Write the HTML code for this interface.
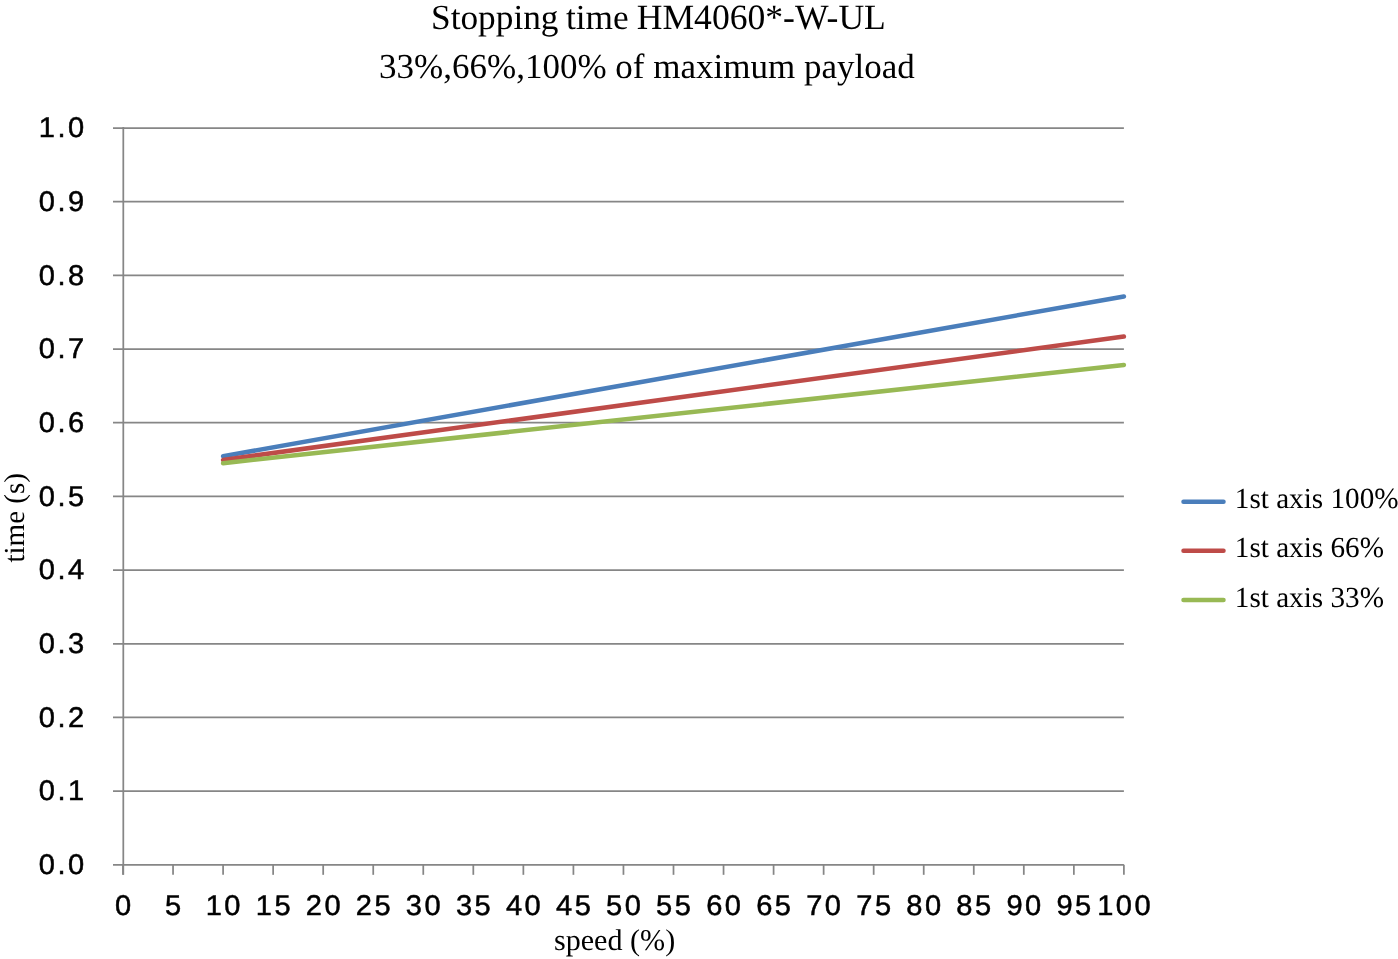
<!DOCTYPE html><html><head><meta charset="utf-8"><style>html,body{margin:0;padding:0;background:#fff;width:1398px;height:959px;overflow:hidden}svg{display:block;will-change:transform;text-rendering:geometricPrecision}</style></head><body>
<svg width="1398" height="959" viewBox="0 0 1398 959">
<rect width="1398" height="959" fill="#fff"/>
<line x1="113" y1="864.83" x2="1123.90" y2="864.83" stroke="#868686" stroke-width="1.75"/>
<line x1="113" y1="791.15" x2="1123.90" y2="791.15" stroke="#868686" stroke-width="1.75"/>
<line x1="113" y1="717.46" x2="1123.90" y2="717.46" stroke="#868686" stroke-width="1.75"/>
<line x1="113" y1="643.78" x2="1123.90" y2="643.78" stroke="#868686" stroke-width="1.75"/>
<line x1="113" y1="570.10" x2="1123.90" y2="570.10" stroke="#868686" stroke-width="1.75"/>
<line x1="113" y1="496.42" x2="1123.90" y2="496.42" stroke="#868686" stroke-width="1.75"/>
<line x1="113" y1="422.73" x2="1123.90" y2="422.73" stroke="#868686" stroke-width="1.75"/>
<line x1="113" y1="349.05" x2="1123.90" y2="349.05" stroke="#868686" stroke-width="1.75"/>
<line x1="113" y1="275.37" x2="1123.90" y2="275.37" stroke="#868686" stroke-width="1.75"/>
<line x1="113" y1="201.68" x2="1123.90" y2="201.68" stroke="#868686" stroke-width="1.75"/>
<line x1="113" y1="128.00" x2="1123.90" y2="128.00" stroke="#868686" stroke-width="1.75"/>
<line x1="123.30" y1="127.12" x2="123.30" y2="874.83" stroke="#868686" stroke-width="1.75"/>
<line x1="123.00" y1="864.83" x2="123.00" y2="874.83" stroke="#868686" stroke-width="1.75"/>
<line x1="173.05" y1="864.83" x2="173.05" y2="874.83" stroke="#868686" stroke-width="1.75"/>
<line x1="223.09" y1="864.83" x2="223.09" y2="874.83" stroke="#868686" stroke-width="1.75"/>
<line x1="273.13" y1="864.83" x2="273.13" y2="874.83" stroke="#868686" stroke-width="1.75"/>
<line x1="323.18" y1="864.83" x2="323.18" y2="874.83" stroke="#868686" stroke-width="1.75"/>
<line x1="373.23" y1="864.83" x2="373.23" y2="874.83" stroke="#868686" stroke-width="1.75"/>
<line x1="423.27" y1="864.83" x2="423.27" y2="874.83" stroke="#868686" stroke-width="1.75"/>
<line x1="473.31" y1="864.83" x2="473.31" y2="874.83" stroke="#868686" stroke-width="1.75"/>
<line x1="523.36" y1="864.83" x2="523.36" y2="874.83" stroke="#868686" stroke-width="1.75"/>
<line x1="573.41" y1="864.83" x2="573.41" y2="874.83" stroke="#868686" stroke-width="1.75"/>
<line x1="623.45" y1="864.83" x2="623.45" y2="874.83" stroke="#868686" stroke-width="1.75"/>
<line x1="673.50" y1="864.83" x2="673.50" y2="874.83" stroke="#868686" stroke-width="1.75"/>
<line x1="723.54" y1="864.83" x2="723.54" y2="874.83" stroke="#868686" stroke-width="1.75"/>
<line x1="773.59" y1="864.83" x2="773.59" y2="874.83" stroke="#868686" stroke-width="1.75"/>
<line x1="823.63" y1="864.83" x2="823.63" y2="874.83" stroke="#868686" stroke-width="1.75"/>
<line x1="873.67" y1="864.83" x2="873.67" y2="874.83" stroke="#868686" stroke-width="1.75"/>
<line x1="923.72" y1="864.83" x2="923.72" y2="874.83" stroke="#868686" stroke-width="1.75"/>
<line x1="973.77" y1="864.83" x2="973.77" y2="874.83" stroke="#868686" stroke-width="1.75"/>
<line x1="1023.81" y1="864.83" x2="1023.81" y2="874.83" stroke="#868686" stroke-width="1.75"/>
<line x1="1073.86" y1="864.83" x2="1073.86" y2="874.83" stroke="#868686" stroke-width="1.75"/>
<line x1="1123.90" y1="864.83" x2="1123.90" y2="874.83" stroke="#868686" stroke-width="1.75"/>
<line x1="223.09" y1="456.18" x2="1123.90" y2="296.44" stroke="#4A7EBB" stroke-width="4.5" stroke-linecap="round"/>
<line x1="223.09" y1="459.87" x2="1123.90" y2="336.52" stroke="#BE4B48" stroke-width="4.5" stroke-linecap="round"/>
<line x1="223.09" y1="463.18" x2="1123.90" y2="364.89" stroke="#98B954" stroke-width="4.5" stroke-linecap="round"/>
<g font-family="Liberation Sans" font-size="28.5" fill="#000" stroke="#000" stroke-width="0.5">
<text transform="translate(46.85,874.13) scale(1.02,1)" text-anchor="middle">0</text><text transform="translate(61.49,874.13) scale(1.02,1)" text-anchor="middle">.</text><text transform="translate(76.13,874.13) scale(1.02,1)" text-anchor="middle">0</text>
<text transform="translate(46.85,800.45) scale(1.02,1)" text-anchor="middle">0</text><text transform="translate(61.49,800.45) scale(1.02,1)" text-anchor="middle">.</text><text transform="translate(76.13,800.45) scale(1.02,1)" text-anchor="middle">1</text>
<text transform="translate(46.85,726.76) scale(1.02,1)" text-anchor="middle">0</text><text transform="translate(61.49,726.76) scale(1.02,1)" text-anchor="middle">.</text><text transform="translate(76.13,726.76) scale(1.02,1)" text-anchor="middle">2</text>
<text transform="translate(46.85,653.08) scale(1.02,1)" text-anchor="middle">0</text><text transform="translate(61.49,653.08) scale(1.02,1)" text-anchor="middle">.</text><text transform="translate(76.13,653.08) scale(1.02,1)" text-anchor="middle">3</text>
<text transform="translate(46.85,579.40) scale(1.02,1)" text-anchor="middle">0</text><text transform="translate(61.49,579.40) scale(1.02,1)" text-anchor="middle">.</text><text transform="translate(76.13,579.40) scale(1.02,1)" text-anchor="middle">4</text>
<text transform="translate(46.85,505.72) scale(1.02,1)" text-anchor="middle">0</text><text transform="translate(61.49,505.72) scale(1.02,1)" text-anchor="middle">.</text><text transform="translate(76.13,505.72) scale(1.02,1)" text-anchor="middle">5</text>
<text transform="translate(46.85,432.03) scale(1.02,1)" text-anchor="middle">0</text><text transform="translate(61.49,432.03) scale(1.02,1)" text-anchor="middle">.</text><text transform="translate(76.13,432.03) scale(1.02,1)" text-anchor="middle">6</text>
<text transform="translate(46.85,358.35) scale(1.02,1)" text-anchor="middle">0</text><text transform="translate(61.49,358.35) scale(1.02,1)" text-anchor="middle">.</text><text transform="translate(76.13,358.35) scale(1.02,1)" text-anchor="middle">7</text>
<text transform="translate(46.85,284.67) scale(1.02,1)" text-anchor="middle">0</text><text transform="translate(61.49,284.67) scale(1.02,1)" text-anchor="middle">.</text><text transform="translate(76.13,284.67) scale(1.02,1)" text-anchor="middle">8</text>
<text transform="translate(46.85,210.98) scale(1.02,1)" text-anchor="middle">0</text><text transform="translate(61.49,210.98) scale(1.02,1)" text-anchor="middle">.</text><text transform="translate(76.13,210.98) scale(1.02,1)" text-anchor="middle">9</text>
<text transform="translate(46.85,137.30) scale(1.02,1)" text-anchor="middle">1</text><text transform="translate(61.49,137.30) scale(1.02,1)" text-anchor="middle">.</text><text transform="translate(76.13,137.30) scale(1.02,1)" text-anchor="middle">0</text>
<text transform="translate(123.00,915.00) scale(1.02,1)" text-anchor="middle">0</text>
<text transform="translate(173.05,915.00) scale(1.02,1)" text-anchor="middle">5</text>
<text transform="translate(213.77,915.00) scale(1.02,1)" text-anchor="middle">1</text><text transform="translate(232.41,915.00) scale(1.02,1)" text-anchor="middle">0</text>
<text transform="translate(263.81,915.00) scale(1.02,1)" text-anchor="middle">1</text><text transform="translate(282.46,915.00) scale(1.02,1)" text-anchor="middle">5</text>
<text transform="translate(313.86,915.00) scale(1.02,1)" text-anchor="middle">2</text><text transform="translate(332.50,915.00) scale(1.02,1)" text-anchor="middle">0</text>
<text transform="translate(363.90,915.00) scale(1.02,1)" text-anchor="middle">2</text><text transform="translate(382.55,915.00) scale(1.02,1)" text-anchor="middle">5</text>
<text transform="translate(413.95,915.00) scale(1.02,1)" text-anchor="middle">3</text><text transform="translate(432.59,915.00) scale(1.02,1)" text-anchor="middle">0</text>
<text transform="translate(463.99,915.00) scale(1.02,1)" text-anchor="middle">3</text><text transform="translate(482.64,915.00) scale(1.02,1)" text-anchor="middle">5</text>
<text transform="translate(514.04,915.00) scale(1.02,1)" text-anchor="middle">4</text><text transform="translate(532.68,915.00) scale(1.02,1)" text-anchor="middle">0</text>
<text transform="translate(564.08,915.00) scale(1.02,1)" text-anchor="middle">4</text><text transform="translate(582.73,915.00) scale(1.02,1)" text-anchor="middle">5</text>
<text transform="translate(614.13,915.00) scale(1.02,1)" text-anchor="middle">5</text><text transform="translate(632.77,915.00) scale(1.02,1)" text-anchor="middle">0</text>
<text transform="translate(664.17,915.00) scale(1.02,1)" text-anchor="middle">5</text><text transform="translate(682.82,915.00) scale(1.02,1)" text-anchor="middle">5</text>
<text transform="translate(714.22,915.00) scale(1.02,1)" text-anchor="middle">6</text><text transform="translate(732.86,915.00) scale(1.02,1)" text-anchor="middle">0</text>
<text transform="translate(764.26,915.00) scale(1.02,1)" text-anchor="middle">6</text><text transform="translate(782.91,915.00) scale(1.02,1)" text-anchor="middle">5</text>
<text transform="translate(814.31,915.00) scale(1.02,1)" text-anchor="middle">7</text><text transform="translate(832.95,915.00) scale(1.02,1)" text-anchor="middle">0</text>
<text transform="translate(864.35,915.00) scale(1.02,1)" text-anchor="middle">7</text><text transform="translate(883.00,915.00) scale(1.02,1)" text-anchor="middle">5</text>
<text transform="translate(914.40,915.00) scale(1.02,1)" text-anchor="middle">8</text><text transform="translate(933.04,915.00) scale(1.02,1)" text-anchor="middle">0</text>
<text transform="translate(964.44,915.00) scale(1.02,1)" text-anchor="middle">8</text><text transform="translate(983.09,915.00) scale(1.02,1)" text-anchor="middle">5</text>
<text transform="translate(1014.49,915.00) scale(1.02,1)" text-anchor="middle">9</text><text transform="translate(1033.13,915.00) scale(1.02,1)" text-anchor="middle">0</text>
<text transform="translate(1064.53,915.00) scale(1.02,1)" text-anchor="middle">9</text><text transform="translate(1083.18,915.00) scale(1.02,1)" text-anchor="middle">5</text>
<text transform="translate(1105.25,915.00) scale(1.02,1)" text-anchor="middle">1</text><text transform="translate(1123.90,915.00) scale(1.02,1)" text-anchor="middle">0</text><text transform="translate(1142.55,915.00) scale(1.02,1)" text-anchor="middle">0</text>
</g>
<g font-family="Liberation Serif" fill="#000">
<text x="431.0" y="29" font-size="35.3">Stopping <tspan x="566.0">time </tspan><tspan x="636.8" font-size="35.6">HM4060*-W-UL</tspan></text>
<text x="379.1" y="78" font-size="35">33%,66%,100% of maximum payload</text>
<text x="554" y="949.5" font-size="30.1">speed (%)</text>
<text transform="translate(23.8,562.5) rotate(-90)" x="0" y="0" font-size="29">time (s)</text>
<line x1="1183.5" y1="501.7" x2="1223.5" y2="501.7" stroke="#4A7EBB" stroke-width="4.5" stroke-linecap="round"/>
<text x="1234.8" y="508.2" font-size="29.2">1st axis 100%</text>
<line x1="1183.5" y1="550.8" x2="1223.5" y2="550.8" stroke="#BE4B48" stroke-width="4.5" stroke-linecap="round"/>
<text x="1234.8" y="557.3" font-size="29.2">1st axis 66%</text>
<line x1="1183.5" y1="600.1" x2="1223.5" y2="600.1" stroke="#98B954" stroke-width="4.5" stroke-linecap="round"/>
<text x="1234.8" y="606.6" font-size="29.2">1st axis 33%</text>
</g>
</svg></body></html>
